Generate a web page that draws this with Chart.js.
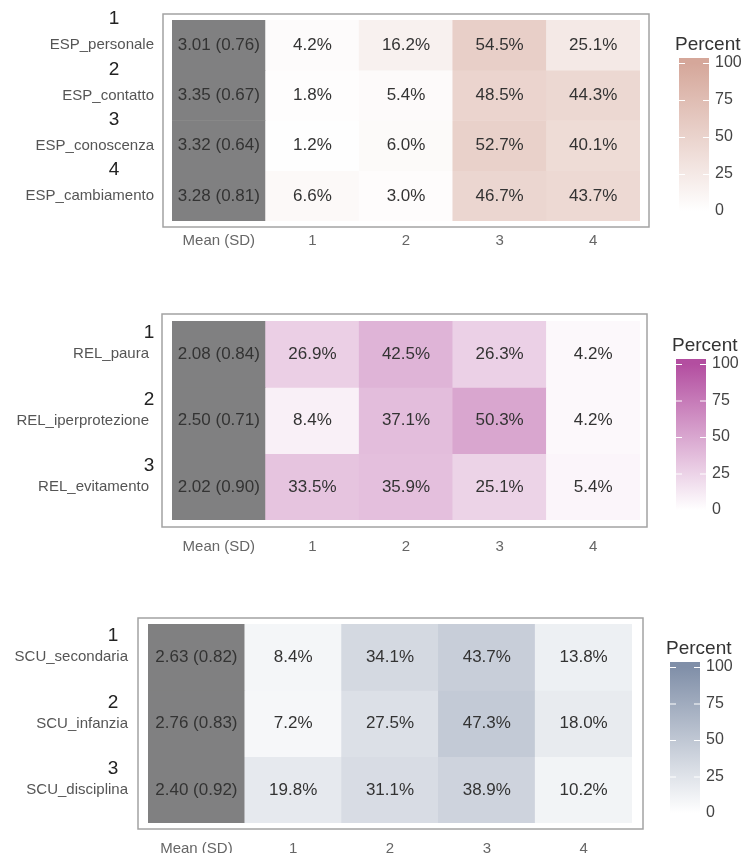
<!DOCTYPE html>
<html>
<head>
<meta charset="utf-8">
<script src="https://cdn.jsdelivr.net/npm/chart.js@4.4.0/dist/chart.umd.min.js"></script>
<style>
  html, body { margin: 0; padding: 0; background: #ffffff; }
  body { width: 748px; height: 853px; position: relative; overflow: hidden; }
  canvas { position: absolute; left: 0; }
</style>
</head>
<body>
<canvas id="c1" width="748" height="270" style="top:0px"></canvas>
<canvas id="c2" width="748" height="270" style="top:300px"></canvas>
<canvas id="c3" width="748" height="253" style="top:600px"></canvas>
<script>
// ---------------- DATA ----------------
const colLabels = ['Mean (SD)', '1', '2', '3', '4'];
const legendTicks = [0, 25, 50, 75, 100];

const espRows = ['ESP_personale', 'ESP_contatto', 'ESP_conoscenza', 'ESP_cambiamento'];
const espMean = [3.01, 3.35, 3.32, 3.28];
const espSD   = [0.76, 0.67, 0.64, 0.81];
const espPct  = [
  [4.2, 16.2, 54.5, 25.1],
  [1.8, 5.4, 48.5, 44.3],
  [1.2, 6.0, 52.7, 40.1],
  [6.6, 3.0, 46.7, 43.7]
];

const relRows = ['REL_paura', 'REL_iperprotezione', 'REL_evitamento'];
const relMean = [2.08, 2.50, 2.02];
const relSD   = [0.84, 0.71, 0.90];
const relPct  = [
  [26.9, 42.5, 26.3, 4.2],
  [8.4, 37.1, 50.3, 4.2],
  [33.5, 35.9, 25.1, 5.4]
];

const scuRows = ['SCU_secondaria', 'SCU_infanzia', 'SCU_disciplina'];
const scuMean = [2.63, 2.76, 2.40];
const scuSD   = [0.82, 0.83, 0.92];
const scuPct  = [
  [8.4, 34.1, 43.7, 13.8],
  [7.2, 27.5, 47.3, 18.0],
  [19.8, 31.1, 38.9, 10.2]
];

// ---------------- STYLE ----------------
const FONT = '"Liberation Sans", Arial, sans-serif';
const meanGray = 'rgb(128,128,129)';

function mix(high, p) {
  const t = p / 100;
  const r = Math.round(255 - t * (255 - high[0]));
  const g = Math.round(255 - t * (255 - high[1]));
  const b = Math.round(255 - t * (255 - high[2]));
  return `rgb(${r},${g},${b})`;
}

function makePanel(canvasId, rows, means, sds, pct, high, L) {
  const canvas = document.getElementById(canvasId);
  const W = canvas.width, H = canvas.height;
  const n = rows.length;

  const datasets = rows.map((row, r) => ({
    label: row,
    data: colLabels.map(() => [r, r + 1]),
    backgroundColor: colLabels.map((c, i) => i === 0 ? meanGray : mix(high, pct[r][i - 1])),
    borderWidth: 0,
    barPercentage: 1,
    categoryPercentage: 1,
    grouped: false
  }));

  const cellText = {
    id: 'cellText',
    afterDatasetsDraw(chart) {
      const ctx = chart.ctx, xs = chart.scales.x, ys = chart.scales.y;
      ctx.save();
      ctx.font = `17px ${FONT}`;
      ctx.fillStyle = '#333333';
      ctx.textAlign = 'center';
      ctx.textBaseline = 'middle';
      rows.forEach((row, r) => {
        const y = ys.getPixelForValue(r + 0.5);
        colLabels.forEach((c, i) => {
          const x = xs.getPixelForValue(i);
          const txt = i === 0
            ? `${means[r].toFixed(2)} (${sds[r].toFixed(2)})`
            : `${pct[r][i - 1].toFixed(1)}%`;
          ctx.fillText(txt, x, y);
        });
      });
      ctx.restore();
    }
  };

  const decor = {
    id: 'decor',
    afterDraw(chart) {
      const ctx = chart.ctx, a = chart.chartArea, ys = chart.scales.y;
      ctx.save();
      // panel frame
      ctx.strokeStyle = '#a3a3a3';
      ctx.lineWidth = 1.5;
      ctx.strokeRect(a.left - L.frame[0], a.top - L.frame[1],
        (a.right - a.left) + L.frame[0] + L.frame[2], (a.bottom - a.top) + L.frame[1] + L.frame[3]);
      // row numbers
      ctx.font = `19px ${FONT}`;
      ctx.fillStyle = '#222222';
      ctx.textAlign = 'center';
      ctx.textBaseline = 'middle';
      rows.forEach((row, r) => {
        ctx.fillText(String(r + 1), L.numX, ys.getPixelForValue(r + 0.5) + L.numDy);
      });
      // colour bar legend
      const bx = a.right + L.legDx, bw = 30;
      const y100 = a.top + 43, y0 = a.bottom - 10;
      const grad = ctx.createLinearGradient(0, y100, 0, y0);
      grad.addColorStop(0, mix(high, 100));
      grad.addColorStop(1, mix(high, 0));
      ctx.fillStyle = grad;
      ctx.fillRect(bx, y100 - 5, bw, (y0 - y100) + 10);
      ctx.strokeStyle = '#ffffff';
      ctx.lineWidth = 1;
      ctx.font = `16px ${FONT}`;
      ctx.fillStyle = '#444444';
      ctx.textAlign = 'left';
      legendTicks.forEach(v => {
        const y = y0 - (v / 100) * (y0 - y100);
        ctx.beginPath();
        ctx.moveTo(bx, y + 0.5); ctx.lineTo(bx + 6, y + 0.5);
        ctx.moveTo(bx + bw - 6, y + 0.5); ctx.lineTo(bx + bw, y + 0.5);
        ctx.stroke();
        ctx.fillText(String(v), bx + bw + 6, y);
      });
      ctx.font = `19px ${FONT}`;
      ctx.fillStyle = '#333333';
      ctx.fillText('Percent', bx - 4, y100 - 18);
      ctx.restore();
    }
  };

  return new Chart(canvas, {
    type: 'bar',
    data: { labels: colLabels, datasets },
    plugins: [cellText, decor],
    options: {
      responsive: false,
      animation: false,
      devicePixelRatio: 1,
      layout: { padding: { left: 0, top: L.top, right: W - L.right, bottom: 0 } },
      plugins: { legend: { display: false }, tooltip: { enabled: false } },
      scales: {
        x: {
          type: 'category',
          offset: true,
          grid: { display: false, drawTicks: false },
          border: { display: false },
          ticks: { color: '#666666', font: { family: FONT, size: 15 }, padding: L.xPad },
          afterFit: s => { s.height = H - L.bottom; s.paddingLeft = 0; s.paddingRight = 0; }
        },
        y: {
          type: 'linear',
          min: 0, max: n, reverse: true,
          grid: { display: false, drawTicks: false },
          border: { display: false },
          afterBuildTicks: s => { s.ticks = rows.map((_, i) => ({ value: i + 0.5 })); },
          ticks: {
            color: '#555555',
            font: { family: FONT, size: 15 },
            padding: L.yPad,
            callback: (v, i) => rows[i]
          },
          afterFit: s => { s.width = L.left; s.paddingTop = 0; s.paddingBottom = 0; }
        }
      }
    }
  });
}

makePanel('c1', espRows, espMean, espSD, espPct, [213, 167, 154],
  { left: 172, right: 640, top: 20, bottom: 221, xPad: 11, yPad: 18, numX: 114, numDy: -26, legDx: 39, frame: [9, 6, 9, 6] });
makePanel('c2', relRows, relMean, relSD, relPct, [179, 78, 160],
  { left: 172, right: 640, top: 21, bottom: 220, xPad: 18, yPad: 23, numX: 149, numDy: -21, legDx: 36, frame: [10, 7, 7, 7] });
makePanel('c3', scuRows, scuMean, scuSD, scuPct, [128, 143, 168],
  { left: 148, right: 632, top: 24, bottom: 223, xPad: 17, yPad: 20, numX: 113, numDy: -21, legDx: 38, frame: [10, 6, 11, 6] });
</script>
</body>
</html>
